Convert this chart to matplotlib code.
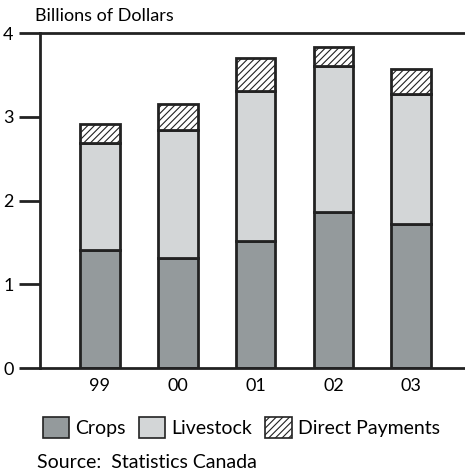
import matplotlib

matplotlib.use("Agg")
import matplotlib.pyplot as plt
from matplotlib.patches import Patch

years = ["99", "00", "01", "02", "03"]
crops = [1.41, 1.31, 1.52, 1.87, 1.72]
livestock = [1.28, 1.54, 1.79, 1.74, 1.56]
direct_payments = [0.23, 0.30, 0.40, 0.23, 0.29]

CROP_COLOR = "#949a9c"
LIVE_COLOR = "#d3d6d7"
EDGE = "#222222"

plt.rcParams["font.family"] = ["Lato", "DejaVu Sans"]
plt.rcParams["hatch.linewidth"] = 0.8

fig = plt.figure(figsize=(4.65, 4.75), dpi=100)
ax = fig.add_axes([0.086, 0.225, 0.914, 0.705])

x = list(range(len(years)))
bottom2 = [c + l for c, l in zip(crops, livestock)]
ax.bar(x, crops, width=0.51, color=CROP_COLOR, edgecolor=EDGE, linewidth=2)
ax.bar(x, livestock, width=0.51, bottom=crops, color=LIVE_COLOR, edgecolor=EDGE, linewidth=2)
ax.bar(x, direct_payments, width=0.51, bottom=bottom2, color="white", edgecolor=EDGE,
       linewidth=2, hatch="/////")

ax.set_xlim(-0.77, 4.69)
ax.set_ylim(0, 4)
ax.set_yticks([0, 1, 2, 3, 4])
ax.set_yticklabels(["0", "1", "2", "3", "4"], fontsize=13)
ax.set_xticks(x)
ax.set_xticklabels(years, fontsize=13)
ax.tick_params(axis="x", length=0, pad=7)
ax.tick_params(axis="y", length=15, width=2, color=EDGE, pad=4)
for side in ["left", "top", "bottom"]:
    ax.spines[side].set_linewidth(2)
    ax.spines[side].set_color(EDGE)
ax.spines["right"].set_visible(False)
ax.spines["bottom"].set_zorder(5)

fig.text(0.075, 0.955, "Billions of Dollars", fontsize=13, ha="left", va="baseline")

handles = [
    Patch(facecolor=CROP_COLOR, edgecolor=EDGE, linewidth=1.2, label="Crops"),
    Patch(facecolor=LIVE_COLOR, edgecolor=EDGE, linewidth=1.2, label="Livestock"),
    Patch(facecolor="white", edgecolor=EDGE, linewidth=1.2, hatch="/////", label="Direct Payments"),
]
fig.legend(handles=handles, loc="center left", bbox_to_anchor=(0.075, 0.1), ncol=3,
           frameon=False, fontsize=14, handlelength=1.35, handleheight=1.35,
           handletextpad=0.3, columnspacing=0.7, borderaxespad=0)

fig.text(0.08, 0.015, "Source:  Statistics Canada", fontsize=14, ha="left", va="baseline")

fig.savefig("out.png", dpi=100)
